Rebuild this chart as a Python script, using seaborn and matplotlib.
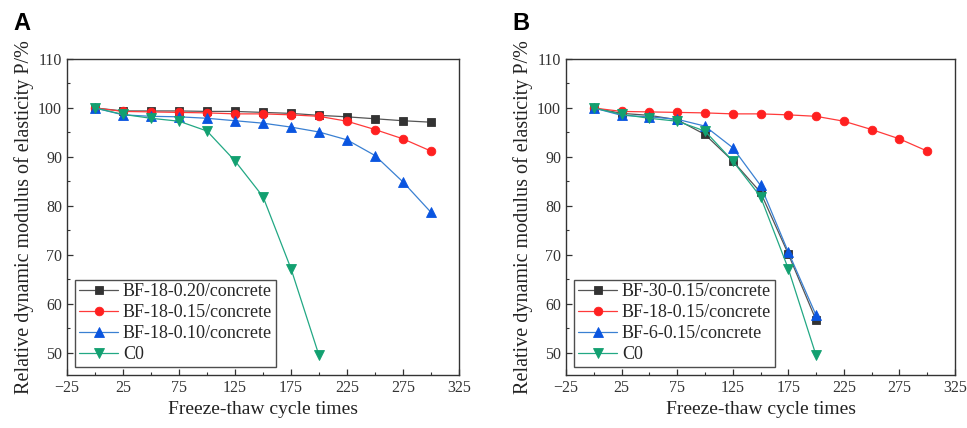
import numpy as np
import pandas as pd
import matplotlib
matplotlib.use("Agg")
import matplotlib.pyplot as plt
import seaborn as sns
from matplotlib.ticker import MultipleLocator

# ---- data ----
cycles = [0, 25, 50, 75, 100, 125, 150, 175, 200, 225, 250, 275, 300]
cycles_c0 = [0, 25, 50, 75, 100, 125, 150, 175, 200]

bf18_020 = [100, 99.4, 99.4, 99.4, 99.3, 99.3, 99.1, 98.9, 98.5, 98.2, 97.8, 97.4, 97.1]
bf18_015 = [100, 99.3, 99.2, 99.1, 99.0, 98.8, 98.8, 98.6, 98.3, 97.3, 95.6, 93.7, 91.2]
bf18_010 = [100, 98.6, 98.3, 98.2, 97.9, 97.4, 96.9, 96.1, 95.1, 93.5, 90.3, 84.9, 78.7]
c0 = [100, 98.7, 97.9, 97.3, 95.3, 89.2, 81.9, 67.2, 49.5]

bf30_015 = [100, 98.9, 98.5, 97.6, 94.6, 89.2, 82.8, 70.2, 56.7]
bf6_015 = [100, 98.5, 98.2, 97.7, 96.3, 91.9, 84.2, 70.6, 57.7]

labels_a = ["BF-18-0.20/concrete", "BF-18-0.15/concrete", "BF-18-0.10/concrete", "C0"]
labels_b = ["BF-30-0.15/concrete", "BF-18-0.15/concrete", "BF-6-0.15/concrete", "C0"]
xticks = [-25, 25, 75, 125, 175, 225, 275, 325]
yticks = [50, 60, 70, 80, 90, 100, 110]

sns.set_theme(style="ticks")
plt.rcParams["font.family"] = ["Liberation Serif", "DejaVu Serif"]

styles = {
    "black": dict(color="#555555", mfc="#333333", mec="#333333", marker="s", ms=5.5),
    "red": dict(color="#ff3a3a", mfc="#ff2020", mec="#ff2020", marker="o", ms=6.2),
    "blue": dict(color="#3a80d2", mfc="#0a55e0", mec="#0a55e0", marker="^", ms=6.8),
    "green": dict(color="#22a884", mfc="#12a070", mec="#12a070", marker="v", ms=6.8),
}

fig = plt.figure(figsize=(9.67, 4.28), dpi=100)
ax_a = fig.add_axes([67/967, 1-375/428, 392/967, 316/428])
ax_b = fig.add_axes([566/967, 1-375/428, 389/967, 316/428])


def draw(ax, series, labels, letter, lx):
    for (xs, ys, key), lab in zip(series, labels):
        st = styles[key]
        sns.lineplot(x=xs, y=ys, ax=ax, color=st["color"], linewidth=0.9,
                     marker=st["marker"], markersize=st["ms"],
                     markerfacecolor=st["mfc"], markeredgecolor=st["mec"],
                     markeredgewidth=0.6, label=lab, legend=False, sort=False)
    ax.set_xlim(-25, 325)
    ax.set_ylim(45.5, 110)
    ax.set_xticks(xticks)
    ax.set_yticks(yticks)
    ax.xaxis.set_minor_locator(MultipleLocator(25))
    ax.yaxis.set_minor_locator(MultipleLocator(5))
    ax.tick_params(which="major", direction="in", length=4, width=0.9,
                   colors="#333333", labelcolor="#333333", labelsize=11.5,
                   top=False, right=False)
    ax.tick_params(which="minor", direction="in", length=2.5, width=0.8,
                   colors="#333333", top=False, right=False)
    for sp in ax.spines.values():
        sp.set_visible(True)
        sp.set_color("#333333")
        sp.set_linewidth(1.0)
    ax.set_xlabel("Freeze-thaw cycle times", fontsize=14, color="#222222",
                  labelpad=4)
    ax.set_ylabel("Relative dynamic modulus of elasticity P/%", fontsize=14.5,
                  color="#222222", labelpad=3)
    leg = ax.legend(loc="lower left", bbox_to_anchor=(0.0, 0.0),
                    fontsize=13, frameon=True, fancybox=False,
                    borderpad=0.2, labelspacing=0.22, handlelength=2.2,
                    handletextpad=0.25, borderaxespad=0.45)
    leg.get_frame().set_edgecolor("#222222")
    leg.get_frame().set_linewidth(1.0)
    fig.text(lx, 1-24/428, letter, fontsize=17, fontweight="bold",
             family=["Liberation Sans", "DejaVu Sans"], va="center",
             ha="left", color="black")


draw(ax_a, [(cycles, bf18_020, "black"), (cycles, bf18_015, "red"),
            (cycles, bf18_010, "blue"), (cycles_c0, c0, "green")],
     labels_a, "A", 13/967)
draw(ax_b, [(cycles_c0, bf30_015, "black"), (cycles, bf18_015, "red"),
            (cycles_c0, bf6_015, "blue"), (cycles_c0, c0, "green")],
     labels_b, "B", 512/967)

fig.savefig("out.png", dpi=100, facecolor="white")
